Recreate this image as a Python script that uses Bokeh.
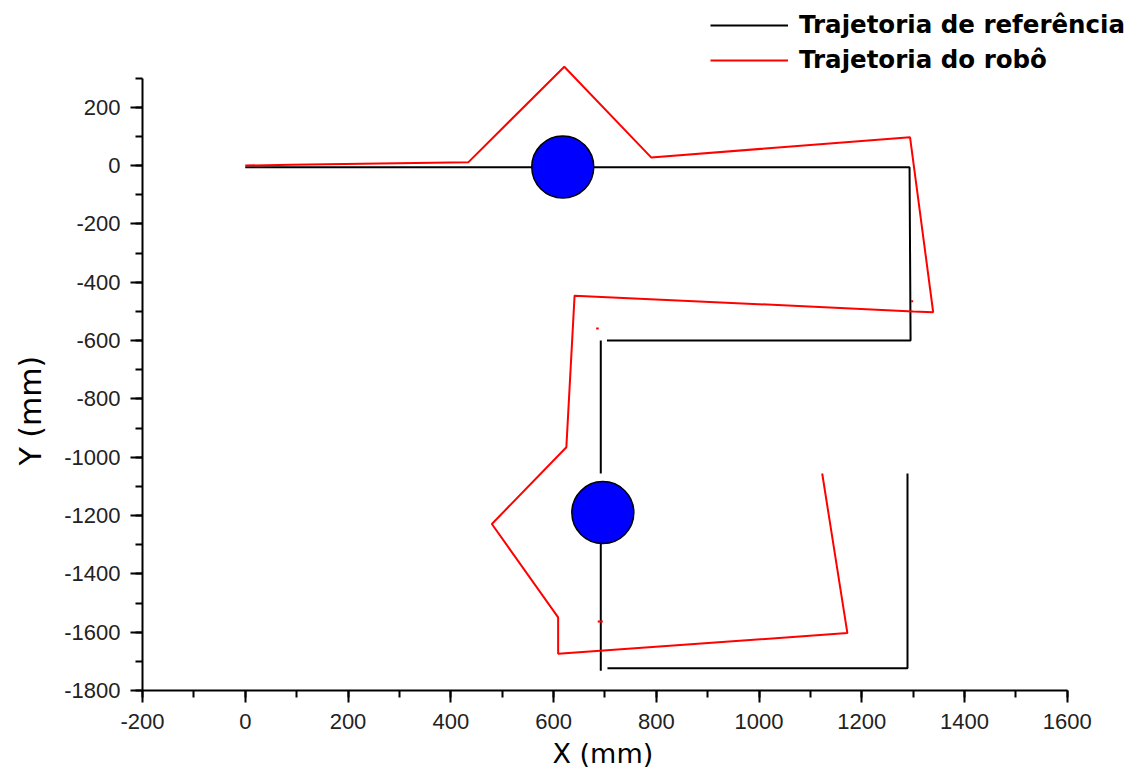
from bokeh.plotting import figure
from bokeh.models import Range1d, FixedTicker, Legend, LegendItem, Title
from bokeh.embed import file_html
from bokeh.resources import INLINE

nan = float("nan")

# Reference trajectory (segments separated by NaN)
ref_x = [0, 1293, 1295, 704, nan, 692, 692, nan, 692, 692, nan, 705, 1289, 1289]
ref_y = [-6, -6, -600, -600, nan, -600, -1056, nan, -1190, -1732, nan, -1724, -1724, -1056]

# Robot trajectory
robot_x = [0, 90, 434, 621, 790, 1294, 1339, 1300, 641, 625, 480, 609, 609, 1172, 1123,
           nan, 683, 688, nan, 686, 696, nan, 1296, 1300]
robot_y = [0, 3, 11, 339, 28, 97, -503, -500, -446, -966, -1229, -1549, -1674, -1603, -1056,
           nan, -559, -559, nan, -1563, -1563, nan, -465, -465]

# Robot positions (circles)
circle_x = [618, 696]
circle_y = [-5, -1190]

x_ticks = list(range(-200, 1601, 200))
x_minor = list(range(-200, 1601, 100))
y_ticks = list(range(-1800, 201, 200))
y_minor = list(range(-1800, 301, 100))

p = figure(width=1131, height=783, output_backend="svg", toolbar_location=None,
           title=None,
           x_range=Range1d(-200, 1725), y_range=Range1d(-1800, 566),
           min_border_left=142, min_border_right=0, min_border_top=0, min_border_bottom=93)
p.grid.visible = False
p.outline_line_color = None
p.background_fill_color = "white"
p.border_fill_color = "white"

r_ref = p.line(ref_x, ref_y, line_color="black", line_width=2)
r_rob = p.line(robot_x, robot_y, line_color="#ff0000", line_width=2)
p.scatter(circle_x, circle_y, size=62, marker="circle", fill_color="#0000ff",
          line_color="black", line_width=1.5)

for ax, ticks, minor, bounds in ((p.xaxis[0], x_ticks, x_minor, (-200, 1600)),
                                 (p.yaxis[0], y_ticks, y_minor, (-1800, 300))):
    ax.ticker = FixedTicker(ticks=ticks, minor_ticks=minor)
    ax.major_label_overrides = {t: str(t) for t in ticks}
    ax.bounds = bounds
    ax.axis_line_width = 2
    ax.axis_line_color = "black"
    ax.major_tick_line_width = 2
    ax.minor_tick_line_width = 2
    ax.major_tick_out = 12
    ax.major_tick_in = 0
    ax.minor_tick_out = 7
    ax.minor_tick_in = 0
    ax.major_label_text_font = "Liberation Sans"
    ax.major_label_text_font_size = "22px"
    ax.major_label_text_color = "#222222"

p.xaxis.major_label_standoff = 11
p.yaxis.major_label_standoff = 10

p.add_layout(Title(text="X (mm)", align="left", offset=410, standoff=13,
                   vertical_align="top",
                   text_font="DejaVu Sans", text_font_size="27px",
                   text_font_style="normal", text_color="black"), "below")
p.add_layout(Title(text="Y (mm)", align="left", offset=225, standoff=24,
                   vertical_align="top",
                   text_font="DejaVu Sans", text_font_size="30px",
                   text_font_style="normal", text_color="black"), "left")

legend = Legend(items=[LegendItem(label="Trajetoria de referência", renderers=[r_ref]),
                       LegendItem(label="Trajetoria do robô", renderers=[r_rob])],
                location=(564, 612), padding=4, margin=0, spacing=6,
                glyph_width=78, glyph_height=28, label_height=28, label_standoff=11,
                label_text_font="DejaVu Sans", label_text_font_style="bold",
                label_text_font_size="24.5px", label_text_color="black",
                border_line_alpha=0, background_fill_alpha=0)
p.add_layout(legend, "center")

open("out.html", "w").write(file_html(p, INLINE))
